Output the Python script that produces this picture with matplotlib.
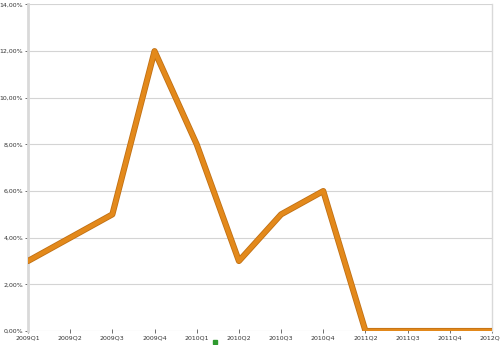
import matplotlib
matplotlib.use("Agg")
import matplotlib.pyplot as plt
import matplotlib.patheffects as pe
from matplotlib.ticker import FuncFormatter

# datos
trimestres = ["2009Q1", "2009Q2", "2009Q3", "2009Q4", "2010Q1", "2010Q2",
              "2010Q3", "2010Q4", "2011Q2", "2011Q3", "2011Q4", "2012Q1"]
valores = [3, 4, 5, 12, 8, 3, 5, 6, 0, 0, 0, 0]

fig = plt.figure(figsize=(5, 3.45), dpi=100)
ax = fig.add_axes([0.056, 0.0406, 0.928, 0.9464])

x = range(len(trimestres))
ax.plot(x, valores, color="#E3891B", linewidth=3.2, solid_capstyle="round",
        solid_joinstyle="round", zorder=3,
        path_effects=[pe.Stroke(linewidth=4.4, foreground="#C07014"), pe.Normal()])

ax.set_xlim(0, len(trimestres) - 1)
ax.set_ylim(0, 14)
ax.set_yticks(range(0, 15, 2))
ax.yaxis.set_major_formatter(FuncFormatter(lambda v, p: f"{v:.2f}%".replace(".", ",")))
ax.set_xticks(list(x))
ax.set_xticklabels(trimestres)

ax.grid(axis="y", color="#d4d4d4", linewidth=0.8)
ax.set_axisbelow(True)
for s in ["top", "bottom"]:
    ax.spines[s].set_visible(False)
ax.spines["left"].set_color("#d9d9d9")
ax.spines["left"].set_linewidth(2)
ax.spines["right"].set_color("#d9d9d9")
ax.spines["right"].set_linewidth(1)

ax.tick_params(axis="both", labelsize=4.5, colors="#333333", length=2, width=0.5,
               pad=1.5)
ax.tick_params(axis="x", direction="inout", length=3, pad=1.5)
for lbl in ax.get_yticklabels() + ax.get_xticklabels():
    lbl.set_color("#333333")

# pequeño marcador verde abajo
fig.patches.append(plt.Rectangle((213 / 500, 1 / 345), 4 / 500, 4 / 345,
                                 transform=fig.transFigure, color="#2e9a2e"))

fig.savefig("out.png", dpi=100)
